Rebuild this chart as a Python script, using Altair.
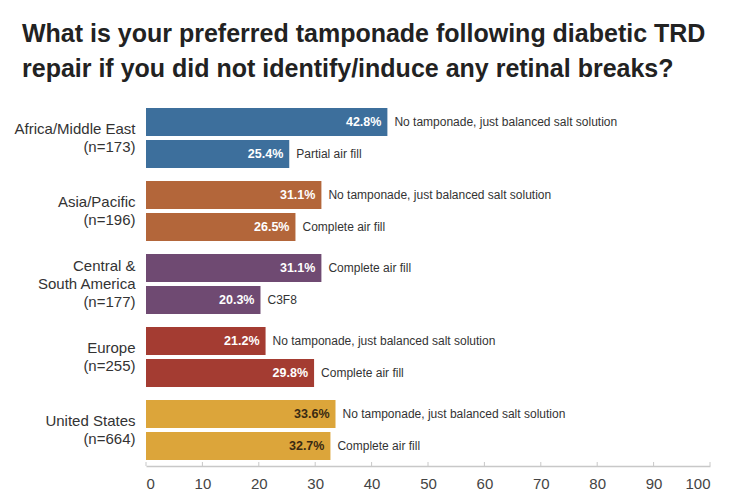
import altair as alt
import pandas as pd

# Survey regions, respondent counts and the two most common answers per region
regions = ["Africa/Middle East", "Asia/Pacific", "Central & South America", "Europe", "United States"]
region_lines = [
    ["Africa/Middle East", "(n=173)"],
    ["Asia/Pacific", "(n=196)"],
    ["Central &", "South America", "(n=177)"],
    ["Europe", "(n=255)"],
    ["United States", "(n=664)"],
]
first_answer = [
    "No tamponade, just balanced salt solution",
    "No tamponade, just balanced salt solution",
    "Complete air fill",
    "No tamponade, just balanced salt solution",
    "No tamponade, just balanced salt solution",
]
first_value = [42.8, 31.1, 31.1, 21.2, 33.6]
second_answer = [
    "Partial air fill",
    "Complete air fill",
    "C3F8",
    "Complete air fill",
    "Complete air fill",
]
second_value = [25.4, 26.5, 20.3, 29.8, 32.7]

region_colors = ["#3d6f9c", "#b3663a", "#6f4a72", "#a43c32", "#dca53a"]
value_text_colors = ["#ffffff", "#ffffff", "#ffffff", "#ffffff", "#3a2a12"]
x_ticks = list(range(0, 101, 10))

keys = ["|".join(lines) for lines in region_lines]
rows = []
for i, key in enumerate(keys):
    rows.append({"region": key, "rank": 1, "value": first_value[i], "answer": first_answer[i],
                 "pct": f"{first_value[i]:.1f}%"})
    rows.append({"region": key, "rank": 2, "value": second_value[i], "answer": second_answer[i],
                 "pct": f"{second_value[i]:.1f}%"})
df = pd.DataFrame(rows)
ticks_df = pd.DataFrame({"t": x_ticks})

W, H = 564, 364
LINE_H = 18

x_scale = alt.Scale(domain=[0, 100], nice=False, zero=True)
y_enc = alt.Y(
    "region:N",
    sort=keys,
    scale=alt.Scale(paddingInner=0.178, paddingOuter=0.082),
    axis=alt.Axis(
        title=None,
        domain=False,
        ticks=False,
        labelExpr="split(datum.label, '|')",
        labelFontSize=15,
        labelFont="Liberation Sans",
        labelColor="#333333",
        labelAlign="right",
        labelBaseline="middle",
        labelLineHeight=LINE_H,
        labelPadding=11,
        # centre each multi-line label block on its group
        labelOffset=alt.condition(
            "length(split(datum.value, '|')) > 2", alt.value(-LINE_H), alt.value(-LINE_H / 2)
        ),
    ),
)
yoff = alt.YOffset("rank:O", scale=alt.Scale(paddingInner=0.125, paddingOuter=0))

base = alt.Chart(df).encode(y=y_enc, yOffset=yoff)

bars = base.mark_bar(size=28).encode(
    x=alt.X(
        "value:Q",
        scale=x_scale,
        axis=alt.Axis(
            title=None,
            values=x_ticks,
            grid=False,
            ticks=False,
            domainColor="#c8c8c8",
            domainWidth=1.5,
            labelFontSize=15,
            labelFont="Liberation Sans",
            labelColor="#444444",
            labelPadding=10,
        ),
    ),
    color=alt.Color("region:N", scale=alt.Scale(domain=keys, range=region_colors), legend=None),
)

value_labels = base.mark_text(
    align="right", baseline="middle", dx=-6, fontSize=12.5, fontWeight="bold", font="Liberation Sans"
).encode(
    x=alt.X("value:Q", scale=x_scale),
    text="pct:N",
    color=alt.Color("region:N", scale=alt.Scale(domain=keys, range=value_text_colors), legend=None),
)

answer_labels = base.mark_text(
    align="left", baseline="middle", dx=7, fontSize=12, font="Liberation Sans", color="#333333"
).encode(
    x=alt.X("value:Q", scale=x_scale),
    text="answer:N",
)

# Small upward tick marks on the value axis
tick_marks = alt.Chart(ticks_df).mark_rule(color="#c8c8c8", strokeWidth=1).encode(
    x=alt.X("t:Q", scale=x_scale),
    y=alt.value(H - 4),
    y2=alt.value(H),
)

chart = (
    alt.layer(bars, value_labels, answer_labels, tick_marks)
    .resolve_scale(color="independent")
    .properties(
        width=W,
        height=H,
        autosize=alt.AutoSizeParams(type="none"),
        padding={"left": 146, "top": 102, "right": 30, "bottom": 35},
        background="white",
        title=alt.TitleParams(
            text=[
                "What is your preferred tamponade following diabetic TRD",
                "repair if you did not identify/induce any retinal breaks?",
            ],
            anchor="start",
            frame="group",
            dx=-124,
            offset=20,
            fontSize=25,
            fontWeight="bold",
            font="Liberation Sans",
            color="#222222",
            lineHeight=35,
        ),
    )
    .configure_view(stroke=None)
)

chart.save("out.html", embed_options={"renderer": "svg", "actions": False})
